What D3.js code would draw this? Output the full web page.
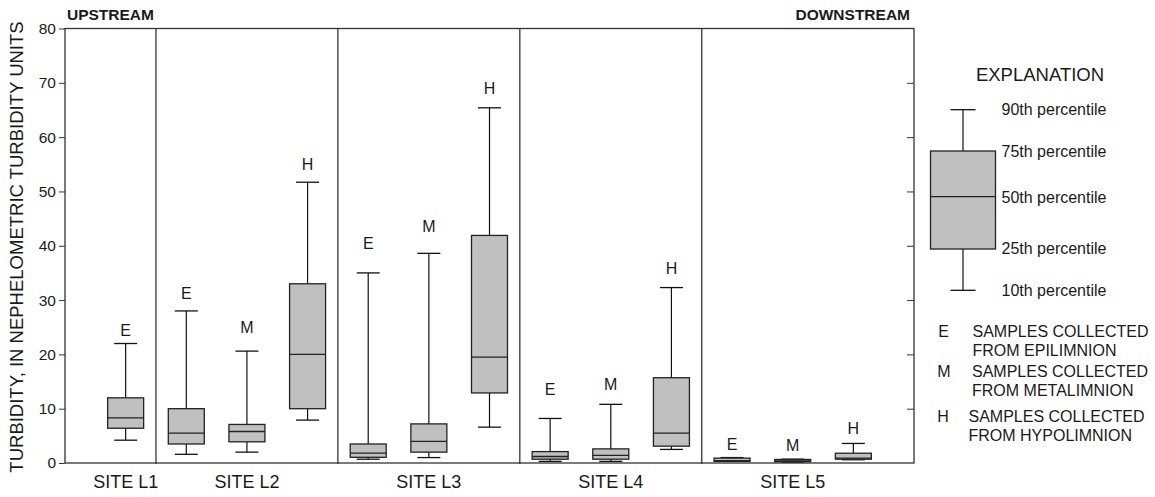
<!DOCTYPE html>
<html>
<head>
<meta charset="utf-8">
<script src="https://cdn.jsdelivr.net/npm/d3@7"></script>
<style>
  body { margin: 0; background: #fff; }
  text { font-family: "Liberation Sans", Arial, sans-serif; fill: #1a1a1a; }
</style>
</head>
<body>
<script>
// one entry per box, left to right
var sites = ["L1", "L2", "L2", "L2", "L3", "L3", "L3", "L4", "L4", "L4", "L5", "L5", "L5"];
var zones = ["E", "E", "M", "H", "E", "M", "H", "E", "M", "H", "E", "M", "H"];
var p10 = [4.2, 1.6, 2.0, 7.9, 0.7, 1.0, 6.6, 0.3, 0.3, 2.5, 0.3, 0.2, 0.6];
var p25 = [6.4, 3.5, 3.9, 10.0, 1.05, 2.0, 12.9, 0.7, 0.7, 3.1, 0.3, 0.25, 0.7];
var p50 = [8.3, 5.5, 5.8, 20.0, 1.8, 4.0, 19.5, 1.2, 1.4, 5.5, 0.45, 0.4, 0.9];
var p75 = [12.0, 10.0, 7.1, 33.0, 3.5, 7.2, 41.9, 2.1, 2.6, 15.7, 0.9, 0.65, 1.8];
var p90 = [22.0, 28.0, 20.6, 51.7, 35.0, 38.6, 65.4, 8.2, 10.8, 32.3, 1.0, 0.7, 3.6];
// level (turbidity units) where the E/M/H letter sits
var letterAt = [24.4, 31.3, 24.9, 54.9, 40.4, 43.5, 69.0, 13.6, 14.4, 35.9, 3.5, 3.2, 6.4];
var siteNames = ["L1", "L2", "L3", "L4", "L5"];
var yTicks = [0, 10, 20, 30, 40, 50, 60, 70, 80];

var legendStats = [
  {key: "p90", label: "90th percentile"},
  {key: "p75", label: "75th percentile"},
  {key: "p50", label: "50th percentile"},
  {key: "p25", label: "25th percentile"},
  {key: "p10", label: "10th percentile"}
];
var legendZones = [
  {code: "E", lines: ["SAMPLES COLLECTED", "FROM EPILIMNION"]},
  {code: "M", lines: ["SAMPLES COLLECTED", "FROM METALIMNION"]},
  {code: "H", lines: ["SAMPLES COLLECTED", "FROM HYPOLIMNION"]}
];

function drawChart() {
  var width = 1155, height = 497;
  var plotLeft = 65, plotRight = 914, plotTop = 28.5, plotBottom = 463;
  var stroke = "#333";
  var boxFill = "#c0c0c0";

  var svg = d3.select("body").append("svg")
    .attr("width", width)
    .attr("height", height);

  var keys = d3.range(sites.length);
  var x = d3.scalePoint().domain(keys).range([plotLeft, plotRight]).padding(1);
  var y = d3.scaleLinear().domain([0, 80]).range([plotBottom, plotTop]);

  // frame
  svg.append("rect")
    .attr("x", plotLeft).attr("y", plotTop)
    .attr("width", plotRight - plotLeft).attr("height", plotBottom - plotTop)
    .attr("fill", "none").attr("stroke", stroke).attr("stroke-width", 1.3);

  // left axis
  var yAx = svg.append("g")
    .attr("transform", "translate(" + plotLeft + ",0)")
    .call(d3.axisLeft(y).tickValues(yTicks).tickSize(6).tickPadding(3));
  yAx.select(".domain").remove();
  yAx.selectAll("line").attr("stroke", stroke);
  yAx.selectAll("text")
    .style("font-family", "'Liberation Sans', Arial, sans-serif")
    .style("font-size", "15.5px").attr("fill", "#1a1a1a");

  // right axis, ticks pointing in, no labels
  var yAxR = svg.append("g")
    .attr("transform", "translate(" + plotRight + ",0)")
    .call(d3.axisLeft(y).tickValues(yTicks.slice(1, -1)).tickSize(7).tickFormat(""));
  yAxR.select(".domain").remove();
  yAxR.selectAll("line").attr("stroke", stroke);

  // site separators
  for (var i = 1; i < sites.length; i++) {
    if (sites[i] !== sites[i - 1]) {
      var sx = (x(i - 1) + x(i)) / 2;
      svg.append("line")
        .attr("x1", sx).attr("x2", sx)
        .attr("y1", plotTop).attr("y2", plotBottom + 1)
        .attr("stroke", stroke).attr("stroke-width", 1.3);
    }
  }

  var boxW = 36, capW = 23;

  function drawBox(g, cx, s, ys, bw, cw) {
    g.append("line")
      .attr("x1", cx).attr("x2", cx)
      .attr("y1", ys(s.p90)).attr("y2", ys(s.p75))
      .attr("stroke", "#111").attr("stroke-width", 1.2);
    g.append("line")
      .attr("x1", cx).attr("x2", cx)
      .attr("y1", ys(s.p25)).attr("y2", ys(s.p10))
      .attr("stroke", "#111").attr("stroke-width", 1.2);
    [s.p90, s.p10].forEach(function(v) {
      g.append("line")
        .attr("x1", cx - cw / 2).attr("x2", cx + cw / 2)
        .attr("y1", ys(v)).attr("y2", ys(v))
        .attr("stroke", "#111").attr("stroke-width", 1.3);
    });
    g.append("rect")
      .attr("x", cx - bw / 2).attr("y", ys(s.p75))
      .attr("width", bw).attr("height", ys(s.p25) - ys(s.p75))
      .attr("fill", boxFill).attr("stroke", "#222").attr("stroke-width", 1.3);
    g.append("line")
      .attr("x1", cx - bw / 2).attr("x2", cx + bw / 2)
      .attr("y1", ys(s.p50)).attr("y2", ys(s.p50))
      .attr("stroke", "#222").attr("stroke-width", 1.3);
  }

  var boxes = svg.append("g");
  keys.forEach(function(i) {
    drawBox(boxes, x(i), {p10: p10[i], p25: p25[i], p50: p50[i], p75: p75[i], p90: p90[i]}, y, boxW, capW);
    boxes.append("text")
      .attr("x", x(i)).attr("y", y(letterAt[i]))
      .attr("dy", "0.35em")
      .attr("text-anchor", "middle")
      .style("font-size", "16px")
      .text(zones[i]);
  });

  // site labels under the axis
  siteNames.forEach(function(s) {
    var idx = keys.filter(function(i) { return sites[i] === s; });
    var cx = d3.mean(idx, function(i) { return x(i); });
    svg.append("text")
      .attr("x", cx).attr("y", plotBottom + 25)
      .attr("text-anchor", "middle")
      .style("font-size", "18px")
      .text("SITE " + s);
  });

  svg.append("text")
    .attr("x", plotLeft + 2).attr("y", 20)
    .style("font-size", "15.5px").style("font-weight", "bold")
    .text("UPSTREAM");
  svg.append("text")
    .attr("x", plotRight - 4).attr("y", 20)
    .attr("text-anchor", "end")
    .style("font-size", "15.5px").style("font-weight", "bold")
    .text("DOWNSTREAM");

  svg.append("text")
    .attr("transform", "translate(23,247) rotate(-90)")
    .attr("text-anchor", "middle")
    .style("font-size", "18.5px")
    .text("TURBIDITY, IN NEPHELOMETRIC TURBIDITY UNITS");

  // explanation
  var lg = svg.append("g");
  lg.append("text")
    .attr("x", 1040).attr("y", 81)
    .attr("text-anchor", "middle")
    .style("font-size", "18.5px")
    .text("EXPLANATION");

  // legend box: percentile -> pixel as drawn in the reference
  var labelY = {p90: 109.7, p75: 151.7, p50: 197.7, p25: 248.3, p10: 290.3};
  var lgY = {p90: 109.7, p75: 151, p50: 196.7, p25: 249, p10: 290.3};
  var lgCx = 963;
  drawBox(lg, lgCx, {p10: "p10", p25: "p25", p50: "p50", p75: "p75", p90: "p90"},
    function(k) { return lgY[k]; }, 65, 25);

  legendStats.forEach(function(d) {
    lg.append("text")
      .attr("x", 1001.5).attr("y", labelY[d.key])
      .attr("dy", "0.35em")
      .style("font-size", "16px")
      .text(d.label);
  });

  var zoneY = [331, 371, 416.5];
  var zoneX = [943.5, 944, 943];
  var textX = [972.5, 972, 968.5];
  legendZones.forEach(function(d, i) {
    lg.append("text")
      .attr("x", zoneX[i]).attr("y", zoneY[i])
      .attr("dy", "0.35em").attr("text-anchor", "middle")
      .style("font-size", "16px")
      .text(d.code);
    d.lines.forEach(function(t, j) {
      lg.append("text")
        .attr("x", textX[i]).attr("y", zoneY[i] + j * 19.3)
        .attr("dy", "0.35em")
        .style("font-size", "16px")
        .text(t);
    });
  });
}

drawChart();
</script>
</body>
</html>
